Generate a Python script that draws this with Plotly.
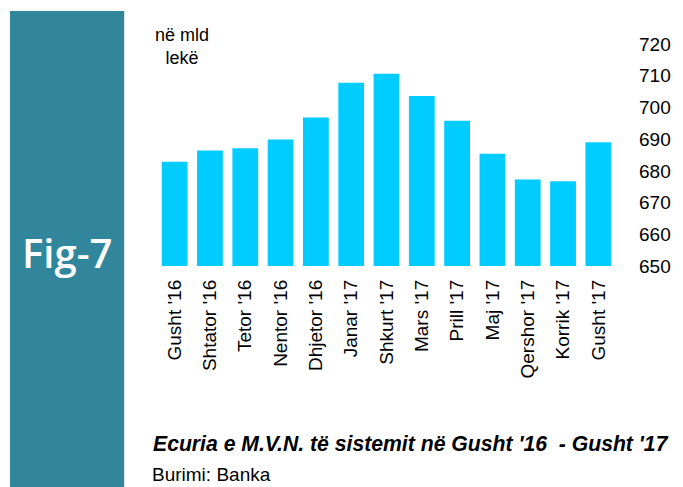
import plotly.graph_objects as go

categories = ["Gusht '16", "Shtator '16", "Tetor '16", "Nentor '16", "Dhjetor '16",
              "Janar '17", "Shkurt '17", "Mars '17", "Prill '17", "Maj '17",
              "Qershor '17", "Korrik '17", "Gusht '17"]
values = [682.9, 686.4, 687.1, 689.9, 696.8, 707.8, 710.6, 703.6, 695.8, 685.4, 677.3, 676.7, 689.0]
y_ticks = [650, 660, 670, 680, 690, 700, 710, 720]

BAR_COLOR = "#00CCFF"
PANEL_COLOR = "#31869B"
FONT = "Liberation Sans, Arial, sans-serif"

# page has an 8px body margin: figure is sized so it fits the 683x487 window
W, H = 675, 479
PL, PR, PT, PB = 157, 619, 44, 266  # plot area in window pixels
PW, PH = PR - PL, PB - PT


def px(x):
    return (x - PL) / PW


def py(y):
    return (PB - y) / PH


fig = go.Figure(go.Bar(x=categories, y=values, marker=dict(color=BAR_COLOR, line=dict(width=0))))

fig.update_layout(
    width=W, height=H,
    margin=dict(l=PL - 8, r=W - (PR - 8), t=PT - 8, b=H - (PB - 8)),
    paper_bgcolor="white", plot_bgcolor="white",
    bargap=0.27,
    showlegend=False,
    font=dict(family=FONT, color="#000000"),
    xaxis=dict(tickangle=-90, showgrid=False, showline=False, zeroline=False,
               tickfont=dict(size=19, family=FONT, color="#000"),
               ticklabelstandoff=9),
    yaxis=dict(side="right", range=[650, 720], tickvals=y_ticks, showgrid=False,
               showline=False, zeroline=False,
               tickfont=dict(size=19, family=FONT, color="#000"),
               ticklabelstandoff=22),
    shapes=[dict(type="rect", xref="paper", yref="paper",
                 x0=px(9), x1=px(124), y0=py(490), y1=py(11),
                 fillcolor=PANEL_COLOR, line=dict(width=0), layer="below")],
    annotations=[
        dict(text="Fig-7", xref="paper", yref="paper", x=px(66.5), y=py(252),
             showarrow=False,
             font=dict(family="Open Sans, sans-serif", size=40, color="white", weight=600),
             xanchor="center", yanchor="middle"),
        dict(text="në mld<br>lekë", xref="paper", yref="paper", x=px(182), y=py(23),
             showarrow=False, font=dict(family=FONT, size=18, color="#000"),
             xanchor="center", yanchor="top", align="center"),
        dict(text="<b><i>Ecuria e M.V.N. të sistemit në Gusht '16  - Gusht '17</i></b>",
             xref="paper", yref="paper", x=px(151), y=py(443),
             showarrow=False, font=dict(family=FONT, size=21.2, color="#000"),
             xanchor="left", yanchor="middle"),
        dict(text="Burimi: Banka", xref="paper", yref="paper", x=px(150), y=py(474),
             showarrow=False, font=dict(family=FONT, size=19, color="#000"),
             xanchor="left", yanchor="middle"),
    ],
)

fig.write_html("out.html")
